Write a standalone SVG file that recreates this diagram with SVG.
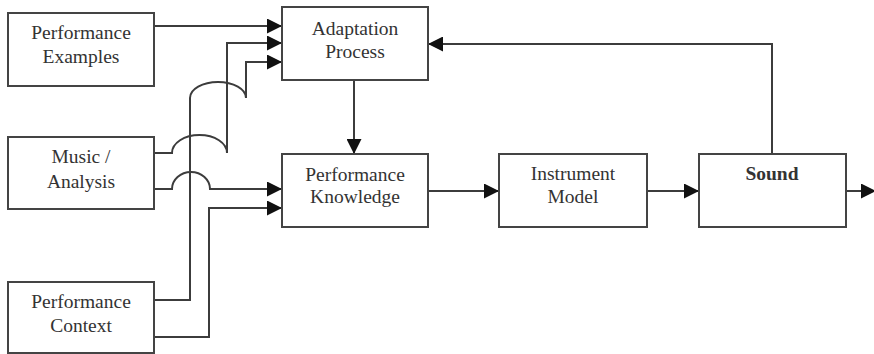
<svg xmlns="http://www.w3.org/2000/svg" width="874" height="354" viewBox="0 0 874 354">
  <defs>
    <marker id="arrow" markerUnits="userSpaceOnUse" markerWidth="15" markerHeight="15" refX="15" refY="7.5" orient="auto">
      <path d="M0,0 L15,7.5 L0,15 Z" fill="#111"/>
    </marker>
    <style>
      .box { fill: #fff; stroke: #444; stroke-width: 2; }
      .lbl { font-family: "Liberation Serif", "Times New Roman", serif; font-size: 19.5px; fill: #333; text-anchor: middle; }
      .bold { font-weight: bold; }
      .wire { fill: none; stroke: #3c3c3c; stroke-width: 2; }
      .arr { marker-end: url(#arrow); }
    </style>
  </defs>
  <rect width="874" height="354" fill="#fff"/>

  <!-- connectors -->
  <g id="connectors">
    <!-- examples into adaptation -->
    <path class="wire arr" d="M154,26 H282"/>
    <!-- music/analysis (upper) hops the context line, climbs to adaptation -->
    <path class="wire arr" d="M154,153 H172 A27.5 18 0 0 1 227,153 V43 H282"/>
    <!-- music/analysis (lower) hops the context line into knowledge -->
    <path class="wire arr" d="M154,189 H172 A19 17 0 0 1 210,189 H282"/>
    <!-- context (upper) rises, hops, into adaptation -->
    <path class="wire arr" d="M154,300 H190 V98 A28 16 0 0 1 246,98 V62 H282"/>
    <!-- context (lower) into knowledge -->
    <path class="wire arr" d="M154,337 H209 V208 H282"/>
    <!-- adaptation down to knowledge -->
    <path class="wire arr" d="M354,80 V154"/>
    <!-- main chain -->
    <path class="wire arr" d="M428,191 H499"/>
    <path class="wire arr" d="M647,191 H699"/>
    <path class="wire arr" d="M846,191 H876"/>
    <!-- sound feedback to adaptation -->
    <path class="wire arr" d="M772,154 V44 H428"/>
  </g>

  <!-- nodes -->
  <g id="performance-examples">
    <rect class="box" x="8" y="13" width="146" height="73"/>
    <text class="lbl" x="81" y="39">Performance</text>
    <text class="lbl" x="81" y="63">Examples</text>
  </g>
  <g id="music-analysis">
    <rect class="box" x="8" y="137" width="146" height="72"/>
    <text class="lbl" x="81" y="163">Music /</text>
    <text class="lbl" x="81" y="188">Analysis</text>
  </g>
  <g id="performance-context">
    <rect class="box" x="8" y="282" width="146" height="71"/>
    <text class="lbl" x="81" y="308">Performance</text>
    <text class="lbl" x="81" y="332">Context</text>
  </g>
  <g id="adaptation-process">
    <rect class="box" x="282" y="7" width="146" height="73"/>
    <text class="lbl" x="355" y="35">Adaptation</text>
    <text class="lbl" x="355" y="58">Process</text>
  </g>
  <g id="performance-knowledge">
    <rect class="box" x="282" y="154" width="146" height="73"/>
    <text class="lbl" x="355" y="181">Performance</text>
    <text class="lbl" x="355" y="203">Knowledge</text>
  </g>
  <g id="instrument-model">
    <rect class="box" x="499" y="154" width="148" height="73"/>
    <text class="lbl" x="573" y="180">Instrument</text>
    <text class="lbl" x="573" y="203">Model</text>
  </g>
  <g id="sound">
    <rect class="box" x="699" y="154" width="147" height="73"/>
    <text class="lbl bold" x="772" y="180">Sound</text>
  </g>
</svg>
